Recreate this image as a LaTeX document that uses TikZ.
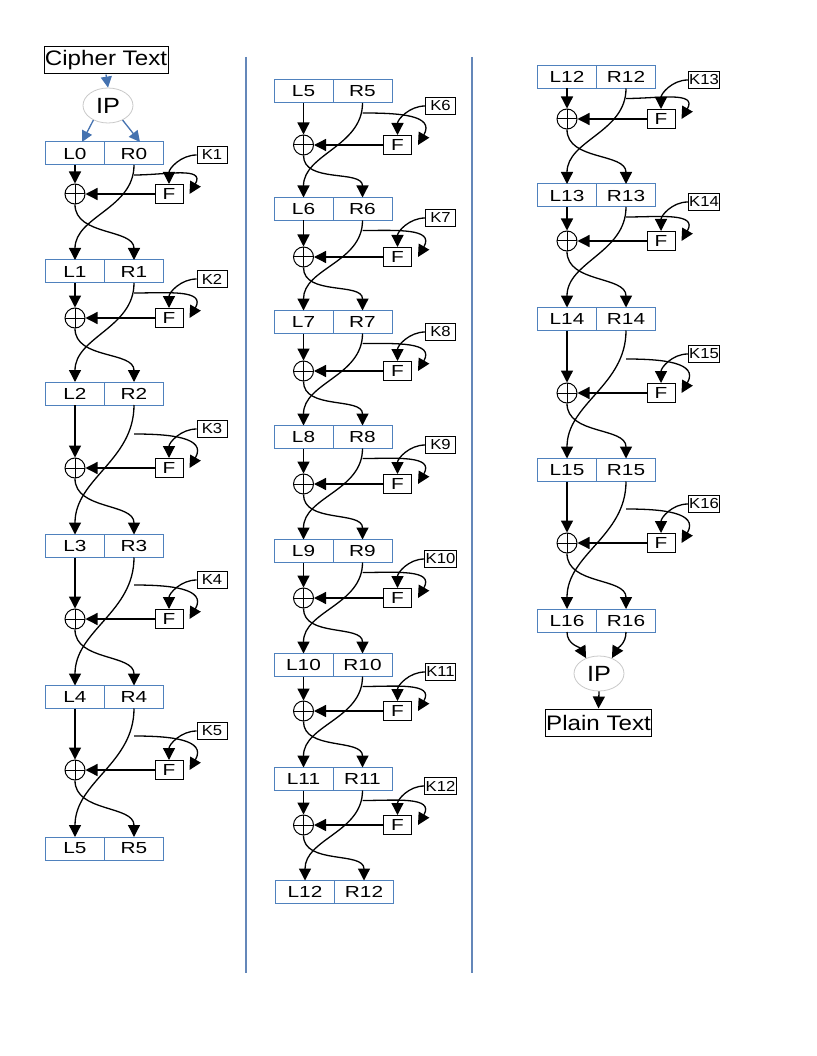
\documentclass[tikz,border=0pt]{standalone}
\usepackage{fontspec}
\setmainfont{Liberation Sans}[FakeStretch=1.15]
\newfontfamily\boxfont{Liberation Sans}[FakeStretch=1.3]
\usetikzlibrary{positioning,arrows.meta,shapes.geometric}

\definecolor{blockblue}{RGB}{79,129,189}
\definecolor{arrowblue}{RGB}{68,114,176}
\definecolor{ringgray}{RGB}{200,200,200}
\definecolor{divblue}{RGB}{100,135,185}

\begin{document}
\begin{tikzpicture}
[
	x=1pt, y=1pt,
	half/.style={draw=blockblue,line width=1pt,minimum width=59pt,minimum height=23pt,inner sep=0pt,outer sep=0pt,font=\boxfont\fontsize{16}{17}\selectfont},
	xorop/.style={circle,draw,line width=1pt,minimum size=20pt,inner sep=0pt,
		path picture={\draw[line width=1pt] (path picture bounding box.north) -- (path picture bounding box.south)
			(path picture bounding box.west) -- (path picture bounding box.east);}},
	fbox/.style={draw,line width=1pt,minimum width=28pt,minimum height=19pt,inner sep=0pt,font=\boxfont\fontsize{16}{17}\selectfont},
	keybox/.style={draw,line width=0.8pt,minimum width=30pt,minimum height=17pt,inner sep=1pt,font=\fontsize{14.5}{15}\selectfont},
	arr/.style={-{Triangle[length=12pt,width=12pt]},line width=1.3pt},
	barr/.style={-{Triangle[length=11pt,width=11pt]},line width=1.3pt,color=arrowblue},
	txtbox/.style={draw,line width=1pt,inner sep=0pt,minimum height=27pt,font=\fontsize{21}{22}\selectfont},
	ipnode/.style={ellipse,draw=ringgray,line width=0.8pt,minimum width=50pt,minimum height=35pt,inner sep=0pt,font=\fontsize{22}{23}\selectfont}
]

	\useasboundingbox (0,0) rectangle (816,-1056);

	% dividers
	\draw[divblue,line width=1.2pt] (246,-57) -- (246,-973);
	\draw[divblue,line width=1.2pt] (472,-57) -- (472,-973);

	% input
	\node[txtbox,minimum width=124pt] (cipher) at (106,-60.5) {Cipher Text};
	\node[ipnode] (ip1) at (108,-105.5) {IP};

	% halves
	\foreach \c/\i/\x/\y in {a/0/75/153.5, a/1/75/271.5, a/2/75/393.5, a/3/75/546, a/4/75/697, a/5/75/848.5,
		b/5/303.5/91.5, b/6/303.5/209, b/7/303.5/322, b/8/303.5/437, b/9/303.5/551, b/10/303.5/665, b/11/303.5/779, b/12/305/892,
		c/12/567/77, c/13/567/195.5, c/14/567/319, c/15/567/470, c/16/567/620.5} {
		\node[half] (L\i\c) at (\x,-\y) {L\i};
		\node[half,right=0pt of L\i\c] (R\i\c) {R\i};
	}

	\draw[barr] (cipher.south) -- (ip1.north);
	\draw[barr] (ip1.225) -- ([xshift=7pt]L0a.north);
	\draw[barr] (ip1.-45) -- ([xshift=6pt]R0a.north);

	% rounds
	\foreach \c/\r/\x/\yt/\yx in {a/1/75/153.5/194, a/2/75/271.5/318, a/3/75/393.5/468, a/4/75/546/619, a/5/75/697/770,
		b/6/303.5/91.5/145, b/7/303.5/209/257, b/8/303.5/322/371, b/9/303.5/437/484, b/10/303.5/551/598, b/11/303.5/665/711, b/12/303.5/779/825,
		c/13/567/77/119, c/14/567/195.5/241, c/15/567/319/393, c/16/567/470/543} {
		\pgfmathtruncatemacro{\p}{\r-1}
		\pgfmathsetmacro{\dy}{max(10,\yx-34-\yt-11.5)}
		\node[xorop] (x\r) at (\x,-\yx) {};
		\node[fbox] (F\r) at (\x+94,-\yx) {F};
		\node[keybox] (K\r) at (\x+137,-\yx+39) {K\r};
		\draw[arr] (L\p\c.south) -- (x\r.north);
		\draw[arr] (F\r.west) -- (x\r.east);
		\draw[arr] (K\r.west) to[out=180,in=90] (F\r.north);
		\draw[arr] ([yshift=-\dy pt]R\p\c.south) to[out=0,in=60,looseness=1.4] ([xshift=6pt]F\r.east);
		\draw[arr] (R\p\c.south) to[out=-90,in=90] (L\r\c.north);
		\draw[arr] (x\r.south) to[out=-90,in=90] (R\r\c.north);
	}

	% output
	\node[ipnode] (ip2) at (599,-673.5) {IP};
	\node[txtbox,minimum width=106pt] (plain) at (598.5,-722.5) {Plain Text};
	\draw[arr] (L16c.south) to[out=-90,in=120] (ip2.130);
	\draw[arr] (R16c.south) to[out=-90,in=60] (ip2.50);
	\draw[arr] (ip2.south) -- (plain.north);

\end{tikzpicture}
\end{document}
